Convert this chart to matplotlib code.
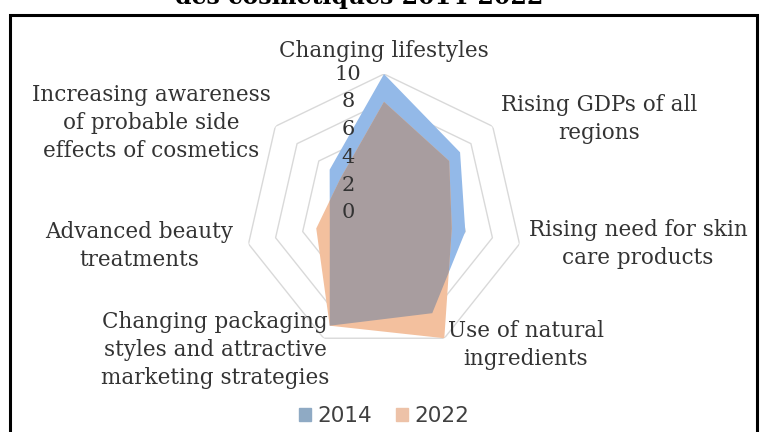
import numpy as np
import matplotlib
matplotlib.use('Agg')
import matplotlib.pyplot as plt
from matplotlib.patches import Patch, Rectangle

# chart data (clockwise from the top)
categories = ['Changing lifestyles',
              'Rising GDPs of all\nregions',
              'Rising need for skin\ncare products',
              'Use of natural\ningredients',
              'Changing packaging\nstyles and attractive\nmarketing strategies',
              'Advanced beauty\ntreatments',
              'Increasing awareness\nof probable side\neffects of cosmetics']
values_2014 = [10, 7, 6, 8, 9, 4, 5]
values_2022 = [8, 6, 5, 10, 9, 5, 4]
series_names = ['2014', '2022']
radial_ticks = [0, 2, 4, 6, 8, 10]

W, H = 762, 432


def fx(px):
    return px / W


def fy(py):
    return 1 - py / H


fig = plt.figure(figsize=(W / 100, H / 100), dpi=100)
fig.patch.set_facecolor('white')

# frame around the chart
fig.add_artist(Rectangle((fx(10), -0.05), fx(757) - fx(10), fy(15) + 0.05,
                         transform=fig.transFigure, fill=False,
                         lw=2.2, ec='black'))

# title, cut off at the top as in the source
fig.text(fx(359), fy(4), 'des cosmétiques 2014-2022', ha='center',
         va='baseline', fontsize=17, fontweight='bold', family='DejaVu Serif',
         color='black')

R = 139
cx, cy = 384, 213
ax = fig.add_axes([fx(cx - R), fy(cy + R), 2 * R / W, 2 * R / H],
                  projection='polar')
ax.set_theta_zero_location('N')
ax.set_theta_direction(-1)
ax.set_ylim(0, 10)
ax.axis('off')

n = len(categories)
ang = np.linspace(0, 2 * np.pi, n, endpoint=False)
ang_c = np.append(ang, ang[0])

# heptagon gridlines
for r in radial_ticks[1:]:
    ax.plot(ang_c, [r] * (n + 1), color='#D9D9D9', lw=1, zorder=1)

blue = '#93B9E8'
orange = '#F3C09E'
mix = '#A89D9F'
v14 = np.append(values_2014, values_2014[0])
v22 = np.append(values_2022, values_2022[0])
b = ax.fill(ang_c, v14, color=blue, lw=0, zorder=2)[0]
ax.fill(ang_c, v22, color=orange, lw=0, zorder=3)
g = ax.fill(ang_c, v22, color=mix, lw=0, zorder=4)[0]
g.set_clip_path(b)

# radial axis labels
for v in radial_ticks:
    ax.annotate(str(v), xy=(0, v), xytext=(-26, 0), textcoords='offset points',
                ha='center', va='center', fontsize=15, family='DejaVu Serif',
                color='#333333', zorder=6, annotation_clip=False)

# category labels
label_pos = [(384, 51), (599, 119), (638, 244), (526, 345),
             (215, 350), (139, 246), (151, 123)]
for text, (px, py) in zip(categories, label_pos):
    fig.text(fx(px), fy(py), text, ha='center', va='center', fontsize=15.5,
             family='DejaVu Serif', color='#333333', linespacing=1.38)

handles = [Patch(color='#8FAAC4'), Patch(color='#EDC2A8')]
fig.legend(handles, series_names, loc='center',
           bbox_to_anchor=(fx(384), fy(416)), ncol=2, frameon=False,
           handlelength=0.55, handleheight=0.55, handletextpad=0.3,
           columnspacing=1.1, prop={'family': 'DejaVu Sans', 'size': 15.5},
           labelcolor='#404040')

fig.savefig('out.png', dpi=100)
